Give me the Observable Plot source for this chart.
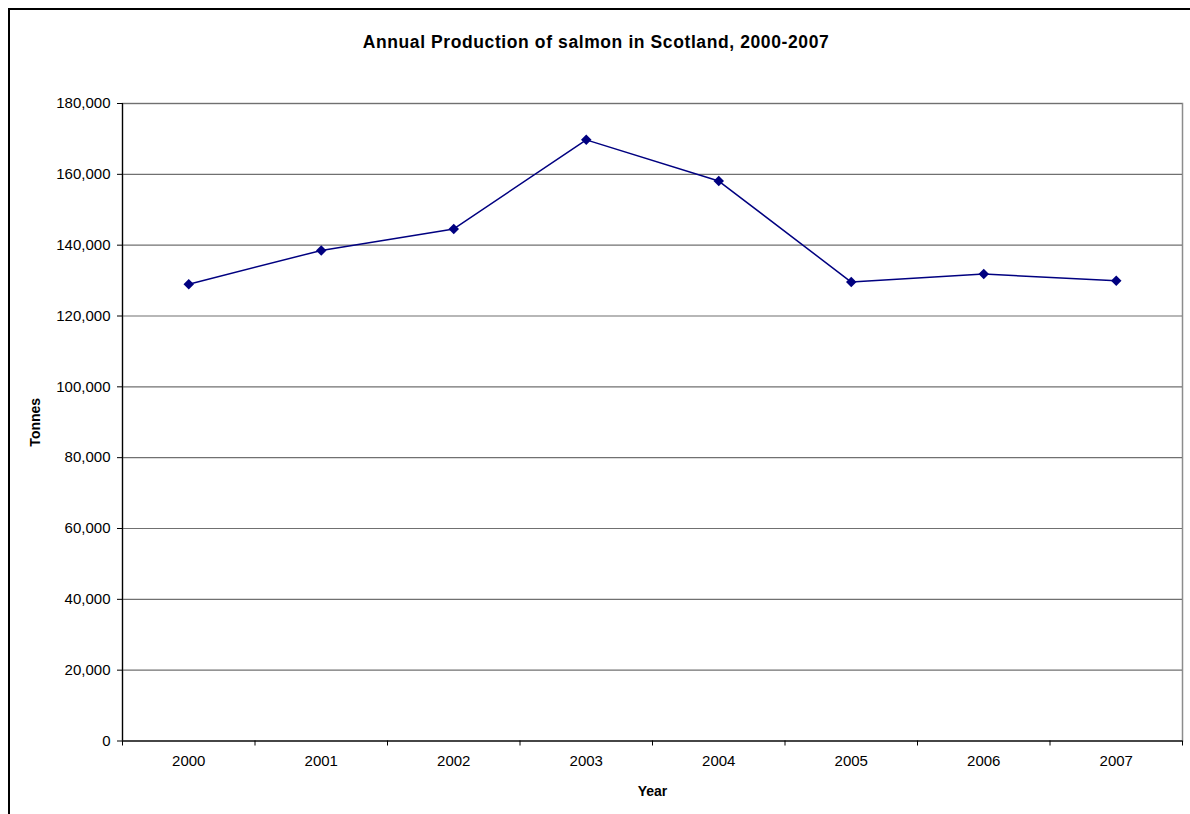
<!DOCTYPE html>
<html>
<head>
<meta charset="utf-8">
<script src="https://cdn.jsdelivr.net/npm/d3@7"></script>
<script src="https://cdn.jsdelivr.net/npm/@observablehq/plot@0.6"></script>
<style>
  html, body { margin: 0; padding: 0; background: #fff; overflow: hidden; }
  #wrap { position: relative; width: 1190px; height: 814px; font-family: "Liberation Sans", Arial, sans-serif; }
  #border { position: absolute; left: 8px; top: 8px; width: 1300px; height: 1000px; border: 2px solid #000; box-sizing: border-box; }
  #title { position: absolute; top: 32px; left: 0; width: 1192px; text-align: center; font-weight: bold; font-size: 17.5px; letter-spacing: 0.6px; color: #000; }
  #chart { position: absolute; left: 0; top: 0; }
</style>
</head>
<body>
<div id="wrap">
  <div id="border"></div>
  <div id="chart"></div>
  <div id="title">Annual Production of salmon in Scotland, 2000-2007</div>
</div>
<script>
// Farmed salmon production, tonnes per year
const years = ["2000", "2001", "2002", "2003", "2004", "2005", "2006", "2007"];
const tonnes = [128959, 138519, 144589, 169736, 158099, 129588, 131847, 129930];
const yTicks = [0, 20000, 40000, 60000, 80000, 100000, 120000, 140000, 160000, 180000];

const data = years.map((year, i) => ({i, year, tonnes: tonnes[i]}));
const n = years.length;
const centers = d3.range(n);
const edges = d3.range(n + 1).map(k => k - 0.5);
const fmt = d3.format(",");

const chart = Plot.plot({
  width: 1190,
  height: 814,
  marginLeft: 122,
  marginRight: 8,
  marginTop: 103,
  marginBottom: 73.5,
  style: {fontFamily: "'Liberation Sans', Arial, sans-serif", fontSize: "15px", color: "#000", background: "transparent"},
  x: {domain: [-0.5, n - 0.5]},
  y: {domain: [0, 180000]},
  marks: [
    Plot.frame({stroke: "#8c8c8c", strokeWidth: 1.5}),
    Plot.gridY(yTicks, {stroke: "#707070", strokeOpacity: 1, strokeWidth: 1.2}),
    Plot.ruleX([-0.5], {stroke: "#000", strokeWidth: 1.2}),
    Plot.ruleY([0], {stroke: "#000", strokeWidth: 1.2}),
    Plot.axisY(yTicks, {tickSize: 5, tickPadding: 7, tickFormat: fmt, label: null, stroke: "#000"}),
    Plot.axisX(edges, {tickSize: 5, tickFormat: () => "", label: null, stroke: "#000"}),
    Plot.axisX(centers, {tickSize: 0, tickPadding: 14, tickFormat: k => years[k], label: null}),
    Plot.line(data, {x: "i", y: "tonnes", stroke: "#000080", strokeWidth: 1.5}),
    Plot.dot(data, {x: "i", y: "tonnes", symbol: "square", rotate: 45, r: 4.2, fill: "#000080", stroke: "none"}),
    Plot.text(["Tonnes"], {frameAnchor: "left", textAnchor: "middle", dx: -87, rotate: -90, text: d => d, fontWeight: "bold", fontSize: 14}),
    Plot.text(["Year"], {frameAnchor: "bottom", dy: 55, text: d => d, fontWeight: "bold", fontSize: 14})
  ]
});
document.getElementById("chart").appendChild(chart);
</script>
</body>
</html>
